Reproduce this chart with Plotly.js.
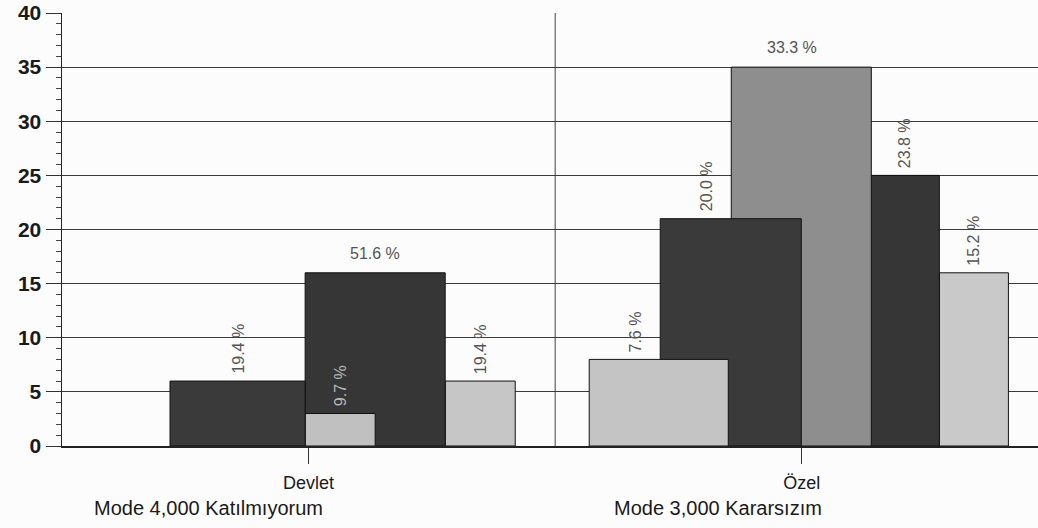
<!DOCTYPE html>
<html>
<head>
<meta charset="utf-8">
<script src="https://cdn.plot.ly/plotly-3.0.1.min.js"></script>
<style>html,body{margin:0;padding:0;background:#fcfcfc;overflow:hidden}</style>
</head>
<body>
<div id="chart" style="width:1038px;height:528px"></div>
<script>
// ---- data ----
const categories = ['Devlet', 'Özel'];
const modeLines = ['Mode 4,000 Katılmıyorum', 'Mode 3,000 Kararsızım'];
const s1 = [null, 8];
const s2 = [6, 21];
const s3 = [3, 35];
const s4 = [16, 25];
const s5 = [6, 16];
const lab1 = ['', '7.6 %'];
const lab2 = ['19.4 %', '20.0 %'];
const lab3 = ['9.7 %', '33.3 %'];
const lab4 = ['51.6 %', '23.8 %'];
const lab5 = ['19.4 %', '15.2 %'];

// ---- geometry / styles (category units) ----
const series = [
  {vals: s5, labs: lab5, offset: [0.277, 0.279], width: [0.142, 0.140], color: ['#c6c6c6', '#c9c9c9'], shift: [0, 0], rot: [true, true], lc: ['#555', '#555']},
  {vals: s4, labs: lab4, offset: [-0.007, 0.139], width: [0.284, 0.140], color: ['#363636', '#363636'], shift: [0, 0], rot: [false, true], lc: ['#555', '#555']},
  {vals: s3, labs: lab3, offset: [-0.007, -0.143], width: [0.142, 0.284], color: ['#c0c0c0', '#8e8e8e'], shift: [0, -0.018], rot: [true, false], lc: ['#b8b8b8', '#555']},
  {vals: s2, labs: lab2, offset: [-0.281, -0.287], width: [0.274, 0.286], color: ['#3a3a3a', '#3a3a3a'], shift: [0, -0.049], rot: [true, true], lc: ['#555', '#555']},
  {vals: s1, labs: lab1, offset: [0, -0.431], width: [0, 0.282], color: ['#c4c4c4', '#c4c4c4'], shift: [0, -0.047], rot: [true, true], lc: ['#555', '#555']}
];

const traces = [];
const annotations = [];
series.forEach(s => {
  traces.push({
    type: 'bar', x: categories, y: s.vals,
    offset: s.offset, width: s.width,
    marker: {color: s.color, line: {color: '#111', width: 1}},
    hoverinfo: 'none', showlegend: false
  });
  s.vals.forEach((v, i) => {
    if (v == null || !s.labs[i]) return;
    const center = i + s.offset[i] + s.width[i] / 2 + s.shift[i];
    annotations.push({
      x: center, y: v, xref: 'x', yref: 'y', text: s.labs[i], showarrow: false,
      textangle: s.rot[i] ? -90 : 0, xanchor: 'center', yanchor: 'bottom',
      yshift: s.rot[i] ? 5 : 9,
      font: {family: 'Liberation Sans, Arial, sans-serif', size: 16, color: s.lc[i]}
    });
  });
});
modeLines.forEach((t, i) => {
  annotations.push({
    x: i, y: -0.143, xref: 'x', yref: 'paper', text: t, showarrow: false,
    xanchor: 'right', yanchor: 'middle', xshift: i === 0 ? 16 : 22,
    font: {family: 'Liberation Sans, Arial, sans-serif', size: 20, color: '#1a1a1a'}
  });
});

const layout = {
  width: 1038, height: 528,
  margin: {l: 62, r: 0, t: 13, b: 82},
  paper_bgcolor: '#fcfcfc', plot_bgcolor: '#fcfcfc',
  barmode: 'overlay',
  xaxis: {
    type: 'category', categoryorder: 'array', categoryarray: categories,
    range: [-0.5, 1.479], showgrid: false, zeroline: false,
    showline: true, linecolor: '#222', linewidth: 1.5,
    ticks: 'outside', ticklen: 16, tickcolor: '#333', tickwidth: 1,
    ticklabelstandoff: 4,
    tickfont: {family: 'Liberation Sans, Arial, sans-serif', size: 18, color: '#1a1a1a'}
  },
  yaxis: {
    range: [0, 40], dtick: 5, tick0: 0,
    showgrid: true, gridcolor: '#3a3a3a', gridwidth: 1,
    zeroline: false, showline: true, linecolor: '#222', linewidth: 1.5,
    ticks: 'outside', ticklen: 15, tickcolor: '#333', tickwidth: 1,
    minor: {dtick: 1, ticks: 'outside', ticklen: 5, tickcolor: '#444', showgrid: false},
    tickfont: {family: 'Liberation Sans, Arial, sans-serif', size: 21, color: '#1a1a1a', weight: 'bold'}
  },
  shapes: [{type: 'line', xref: 'x', yref: 'paper', x0: 0.5, x1: 0.5, y0: 0, y1: 1, line: {color: '#444', width: 1}, layer: 'below'}],
  annotations: annotations
};

Plotly.newPlot('chart', traces, layout, {displayModeBar: false, staticPlot: true});
</script>
</body>
</html>
